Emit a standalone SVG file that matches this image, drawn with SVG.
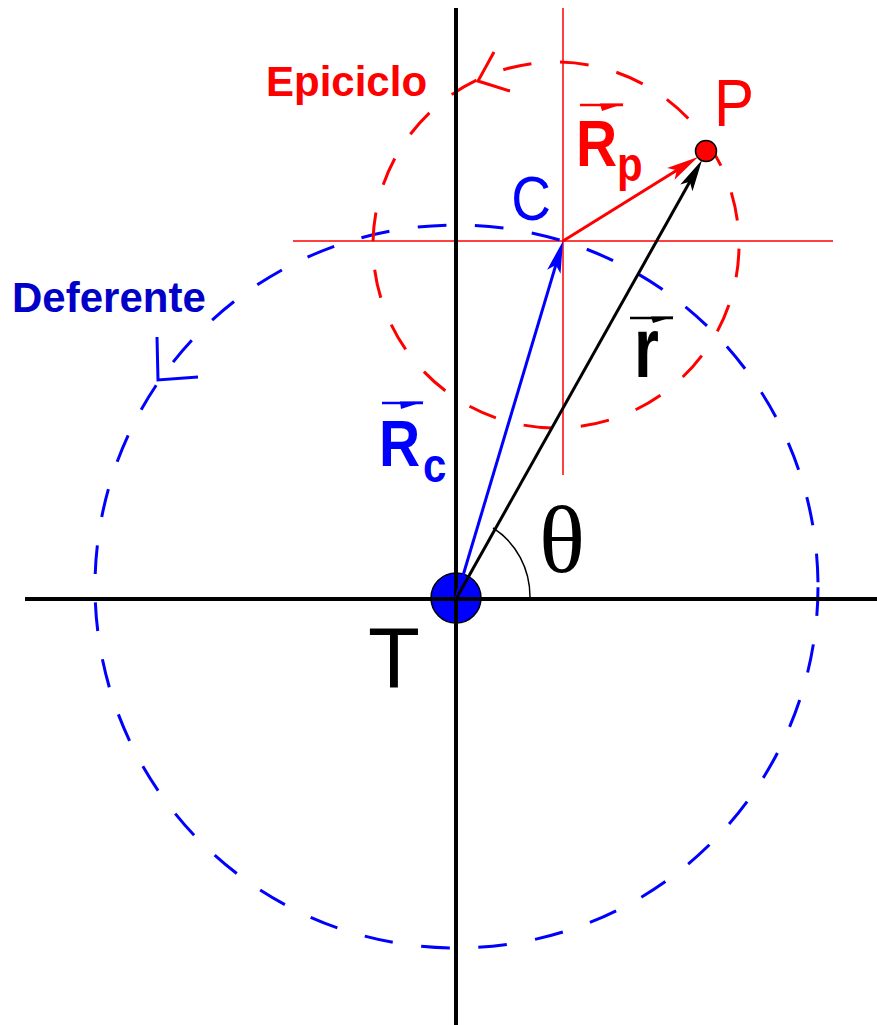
<svg xmlns="http://www.w3.org/2000/svg" width="877" height="1025" viewBox="0 0 877 1025">
<style>
.sans{font-family:"Liberation Sans",Arial,sans-serif}
.bold{font-weight:bold}
.thinred{stroke:#ff0000;stroke-width:1.5;fill:none}
.axis{stroke:#000;stroke-width:4;fill:none}
.def{stroke:#0000ff;stroke-width:3;fill:none;stroke-dasharray:28.7 28.65;stroke-dashoffset:-0.85}
.epi{stroke:#ff0000;stroke-width:3;fill:none;stroke-dasharray:28.75 28.74;stroke-dashoffset:-3.7}
.vec{stroke-width:3;fill:none}
</style>
<defs>
<marker id="ahBlue" viewBox="-20 -8 40 16" markerWidth="40" markerHeight="16" refX="0" refY="0" orient="auto" markerUnits="userSpaceOnUse"><path d="M15,0 L-17,-7 L-10,0 L-17,7 Z" fill="#0000ff"/></marker>
<marker id="ahRed" viewBox="-20 -8 40 16" markerWidth="40" markerHeight="16" refX="0" refY="0" orient="auto" markerUnits="userSpaceOnUse"><path d="M15,0 L-17,-7 L-10,0 L-17,7 Z" fill="#ff0000"/></marker>
<marker id="ahBlack" viewBox="-20 -8 40 16" markerWidth="40" markerHeight="16" refX="0" refY="0" orient="auto" markerUnits="userSpaceOnUse"><path d="M15,0 L-17,-7 L-10,0 L-17,7 Z" fill="#000"/></marker>
</defs>
<rect width="877" height="1025" fill="#fff"/>

<g id="guides">
<line class="thinred" x1="563" y1="8" x2="563" y2="475"/>
<line class="thinred" x1="293" y1="241" x2="833" y2="241"/>
</g>

<g id="deferente">
<circle class="def" cx="456.5" cy="586.5" r="361.5"/>
<polyline points="157,337 158,380 198,377" fill="none" stroke="#0000ff" stroke-width="3"/>
<text class="sans bold" x="12" y="312" font-size="42" fill="#0000c8">Deferente</text>
</g>

<g id="epiciclo">
<circle class="epi" cx="556" cy="245" r="183"/>
<polyline points="494,52 478,81 510,91" fill="none" stroke="#ff0000" stroke-width="3"/>
<text class="sans bold" x="266" y="96" font-size="42" fill="#ff0000">Epiciclo</text>
</g>

<g id="axes">
<line class="axis" x1="456" y1="8" x2="456" y2="1025"/>
<line class="axis" x1="25" y1="599" x2="877" y2="599"/>
</g>

<g id="T">
<circle cx="456" cy="598" r="25" fill="#0000ff" stroke="#000" stroke-width="1.5"/>
<line x1="456" y1="572" x2="456" y2="624" stroke="#000" stroke-width="4"/>
<line x1="430" y1="599" x2="482" y2="599" stroke="#000" stroke-width="4"/>
<text class="sans" x="394" y="687" font-size="85" text-anchor="middle" fill="#000">T</text>
</g>

<g id="connectors">
<line class="vec" x1="456" y1="599" x2="558.7" y2="255.4" stroke="#0000ff" marker-end="url(#ahBlue)"/>
<line class="vec" x1="456" y1="599" x2="694.7" y2="173.1" stroke="#000" marker-end="url(#ahBlack)"/>
<line class="vec" x1="563" y1="241" x2="685.3" y2="164.9" stroke="#ff0000" marker-end="url(#ahRed)"/>
<path d="M530,598 A75,80 0 0 0 493,528" fill="none" stroke="#000" stroke-width="1.5"/>
</g>

<g id="theta">
<text x="562" y="572" font-family="'Liberation Serif','Times New Roman',serif" font-size="96" text-anchor="middle" fill="#000">θ</text>
</g>

<g id="C">
<text class="sans" transform="translate(531,220) scale(1,1.15)" font-size="55" text-anchor="middle" fill="#0000ff">C</text>
</g>

<g id="P">
<circle cx="706" cy="151" r="10.5" fill="#ff0000" stroke="#000" stroke-width="1.5"/>
<text class="sans" transform="translate(714,126) scale(1,1.1)" font-size="60" fill="#ff0000">P</text>
</g>

<g id="label-Rc">
<line x1="382" y1="403" x2="423" y2="403" stroke="#0000ff" stroke-width="2.5"/>
<polygon points="424,401.5 400,401.5 401,409" fill="#0000ff"/>
<text class="sans bold" transform="translate(379,466) scale(1,1.15)" font-size="57" fill="#0000ff">R</text>
<text class="sans bold" transform="translate(423,482) scale(1,1.15)" font-size="42" fill="#0000ff">c</text>
</g>

<g id="label-Rp">
<line x1="580" y1="105" x2="623" y2="105" stroke="#ff0000" stroke-width="2.5"/>
<polygon points="624,103.5 600,103.5 602,111" fill="#ff0000"/>
<text class="sans bold" transform="translate(576,166) scale(1,1.15)" font-size="57" fill="#ff0000">R</text>
<text class="sans bold" transform="translate(617,181) scale(1,1.15)" font-size="42" fill="#ff0000">p</text>
</g>

<g id="label-r">
<line x1="630" y1="318" x2="673" y2="318" stroke="#000" stroke-width="2.5"/>
<polygon points="674,316.5 651,316.5 653,323" fill="#000"/>
<text class="sans bold" transform="translate(634,377) scale(1,1.32)" font-size="64" fill="#000">r</text>
</g>
</svg>
